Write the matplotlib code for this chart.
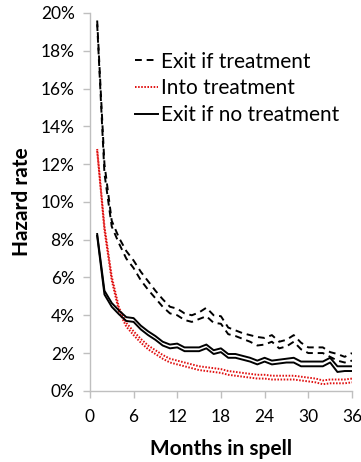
import numpy as np
import matplotlib
matplotlib.use("Agg")
import matplotlib.pyplot as plt
from matplotlib.ticker import FuncFormatter

plt.rcParams["font.family"] = ["Lato", "DejaVu Sans"]

# Hazard rates (%) by month in spell, each series drawn as an upper and lower line
months = np.arange(1, 37)

exit_treat_hi = [19.6, 12.0, 9.0, 8.1, 7.4, 6.9, 6.3, 5.8, 5.3, 4.85,
                 4.45, 4.35, 4.1, 4.0, 4.15, 4.4, 4.0, 3.95, 3.35, 3.2,
                 3.05, 2.95, 2.85, 2.8, 2.95, 2.6, 2.7, 2.95, 2.55, 2.3,
                 2.3, 2.3, 2.05, 1.95, 1.8, 2.0]
exit_treat_lo = [19.4, 11.5, 8.7, 7.8, 7.0, 6.5, 5.85, 5.35, 4.9, 4.45,
                 4.1, 4.0, 3.75, 3.65, 3.8, 3.95, 3.6, 3.55, 3.0, 2.9,
                 2.75, 2.6, 2.4, 2.45, 2.6, 2.25, 2.35, 2.6, 2.2, 2.0,
                 2.0, 2.0, 1.8, 1.6, 1.5, 1.6]

into_treat_hi = [12.8, 8.7, 6.05, 4.4, 3.6, 3.15, 2.75, 2.4, 2.15, 1.9,
                 1.7, 1.6, 1.5, 1.4, 1.3, 1.25, 1.2, 1.15, 1.05, 1.0,
                 0.95, 0.9, 0.85, 0.85, 0.8, 0.8, 0.8, 0.8, 0.75, 0.7,
                 0.65, 0.55, 0.6, 0.6, 0.6, 0.65]
into_treat_lo = [12.7, 8.5, 5.85, 4.2, 3.4, 2.95, 2.55, 2.2, 1.95, 1.7,
                 1.5, 1.4, 1.3, 1.2, 1.1, 1.05, 1.0, 0.95, 0.85, 0.8,
                 0.75, 0.7, 0.65, 0.65, 0.6, 0.6, 0.6, 0.6, 0.55, 0.5,
                 0.45, 0.35, 0.4, 0.4, 0.4, 0.45]

exit_no_hi = [8.3, 5.3, 4.65, 4.25, 3.9, 3.85, 3.45, 3.15, 2.9, 2.6,
              2.45, 2.5, 2.3, 2.3, 2.3, 2.45, 2.15, 2.25, 1.95, 1.95,
              1.85, 1.75, 1.6, 1.75, 1.6, 1.65, 1.7, 1.75, 1.55, 1.55,
              1.55, 1.55, 1.75, 1.3, 1.3, 1.3]
exit_no_lo = [8.2, 5.1, 4.45, 4.05, 3.7, 3.65, 3.25, 2.95, 2.7, 2.4,
              2.25, 2.3, 2.1, 2.1, 2.1, 2.25, 1.95, 2.05, 1.75, 1.75,
              1.65, 1.55, 1.4, 1.55, 1.4, 1.45, 1.5, 1.5, 1.3, 1.3,
              1.3, 1.3, 1.5, 1.0, 1.05, 1.05]

x_ticks = [0, 6, 12, 18, 24, 30, 36]
y_ticks = [0, 2, 4, 6, 8, 10, 12, 14, 16, 18, 20]

fig = plt.figure(figsize=(3.61, 4.62), dpi=100)
ax = fig.add_axes([0.249, 0.154, 0.726, 0.818])

lw = 1.4
ax.plot(months, exit_treat_hi, color="black", lw=lw, ls=(0, (3.5, 2.5)),
        label="Exit if treatment")
ax.plot(months, exit_treat_lo, color="black", lw=lw, ls=(0, (3.5, 2.5)))
ax.plot(months, into_treat_hi, color="#e01010", lw=lw, ls=(0, (0.8, 0.8)),
        label="Into treatment")
ax.plot(months, into_treat_lo, color="#e01010", lw=lw, ls=(0, (0.8, 0.8)))
ax.plot(months, exit_no_hi, color="black", lw=lw, label="Exit if no treatment")
ax.plot(months, exit_no_lo, color="black", lw=lw)

ax.set_xlim(0, 36)
ax.set_ylim(0, 20)
ax.set_xticks(x_ticks)
ax.set_yticks(y_ticks)
ax.yaxis.set_major_formatter(FuncFormatter(lambda v, p: f"{v:.0f}%"))

for s in ["top", "right"]:
    ax.spines[s].set_visible(False)
for s in ["left", "bottom"]:
    ax.spines[s].set_color("#bfbfbf")
    ax.spines[s].set_linewidth(1.0)
ax.tick_params(axis="both", colors="#bfbfbf", labelcolor="black",
               labelsize=12.5, length=5, width=1.0)
ax.tick_params(axis="y", pad=6)
ax.tick_params(axis="x", pad=8)

ax.set_xlabel("Months in spell", fontsize=15, fontweight="bold", labelpad=10)
ax.set_ylabel("Hazard rate", fontsize=15, fontweight="bold", labelpad=6)

ax.legend(loc="upper left", bbox_to_anchor=(0.142, 0.92), frameon=False,
          fontsize=15, handlelength=1.1, handletextpad=0.15, labelspacing=0.32,
          borderaxespad=0)

fig.savefig("out.png", dpi=100)
